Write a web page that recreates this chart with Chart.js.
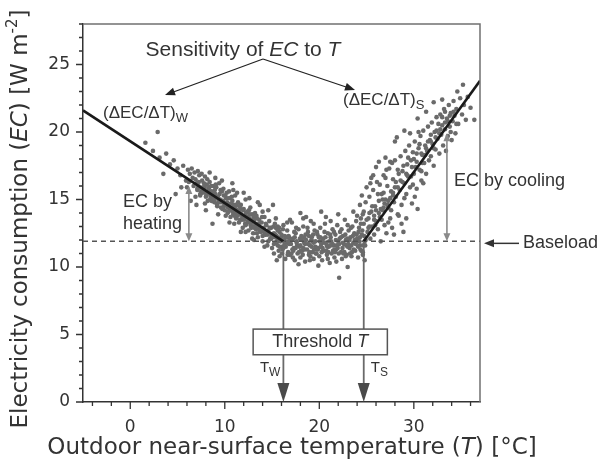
<!DOCTYPE html>
<html>
<head>
<meta charset="utf-8">
<script src="https://cdn.jsdelivr.net/npm/chart.js@4.4.1/dist/chart.umd.min.js"></script>
<style>
  body { margin: 0; background: #fff; }
</style>
</head>
<body>
<canvas id="ecChart" width="603" height="464"></canvas>
<script>
const winterObs = [
  [1.6,19.2],[2.9,20.0],[3.5,16.9],[2.4,18.6],[3.1,18.1],[3.8,18.4],[4.2,17.6],[4.6,17.9],[5.0,17.3],[5.3,16.8],
  [5.6,17.5],[5.9,16.4],[6.1,17.2],[6.3,16.9],[6.0,15.9],[4.8,15.4],[6.6,16.6],[6.8,17.0],[7.0,16.2],[7.1,15.7],
  [7.3,16.8],[7.4,15.3],[7.6,16.4],[7.7,15.9],[7.9,16.7],[8.0,15.5],[8.1,16.1],[8.2,14.9],[8.3,15.8],[8.4,16.3],
  [8.5,15.2],[8.6,15.6],[8.7,13.2],[8.8,16.0],[8.9,14.8],[9.0,15.4],[9.1,15.9],[9.2,14.6],[9.3,15.1],[9.4,16.2],
  [9.5,15.0],[9.6,14.4],[9.7,15.6],[9.8,14.9],[9.9,15.3],[10.0,14.2],[10.1,14.7],[10.2,15.5],[10.3,14.0],[10.4,14.6],
  [10.5,15.1],[10.6,13.7],[10.7,14.4],[10.8,14.9],[10.9,13.9],[11.0,14.5],[11.1,15.3],[11.2,13.6],[11.3,14.2],[11.4,14.8],
  [11.5,13.3],[11.6,14.0],[11.7,14.6],[11.8,13.5],[11.9,12.9],[12.0,14.3],[12.1,13.8],[12.2,15.0],[12.3,13.2],[12.4,14.1],
  [12.5,12.7],[12.6,13.6],[12.7,14.4],[12.8,13.0],[12.9,13.9],[13.0,12.5],[13.1,13.4],[13.2,14.0],[13.3,12.8],[13.4,13.6],
  [13.5,12.2],[13.6,13.1],[13.7,14.6],[13.8,12.6],[13.9,13.3],[14.0,11.9],[14.1,12.9],[14.2,13.7],[14.3,12.4],[14.4,13.1],
  [14.5,11.6],[14.6,12.7],[14.7,13.4],[14.8,12.1],[14.9,12.9],[15.0,11.4],[15.1,14.6],[15.2,12.5],[15.3,13.2],[15.4,11.8],
  [15.5,12.3],[15.6,13.0],[15.7,11.2],[15.8,12.6],[7.2,16.0],[7.5,15.6],[7.8,16.2],[8.05,15.3],[8.35,15.9],[8.65,14.9],
  [8.95,15.7],[9.15,14.7],[9.45,15.4],[9.75,14.3],[9.85,15.8],[10.15,15.1],[10.35,14.4],[10.65,14.7],[10.85,14.1],[11.05,14.0],
  [11.25,14.6],[11.45,13.9],[11.65,14.3],[11.85,13.7],[12.05,13.5],[12.25,14.0],[12.45,13.4],[12.65,13.9],[12.85,13.3],[13.05,13.7],
  [13.25,13.1],[13.45,12.9],[13.65,13.5],[13.85,12.9],[9.3,13.9],[10.5,13.3],[11.7,12.6],[12.9,12.1],[6.4,14.9],[10.8,16.2],
  [12.0,15.5],[13.5,14.8],[14.6,14.2],[5.4,15.9],[7.0,14.6],[8.0,14.2],
  [6.2,16.3],[6.5,17.3],[6.7,16.0],[6.9,16.5],[7.15,17.1],[7.35,15.9],[7.55,16.9],[7.65,15.5],[7.85,15.8],[8.15,16.5],
  [8.25,15.6],[8.45,15.0],[8.55,16.0],[8.75,15.4],[8.85,15.1],[9.05,16.1],[9.25,15.2],[9.35,14.9],[9.55,15.7],[9.65,14.8],
  [9.95,14.6],[10.05,15.3],[10.25,14.8],[10.45,15.6],[10.55,14.3],[10.75,15.2],[10.95,14.6],[11.15,14.3],[11.35,13.8],[11.55,14.5],
  [11.75,13.9],[11.95,14.2],[12.15,13.2],[12.35,13.7],[12.55,14.2],[12.75,13.1],[12.95,13.5],[13.15,12.9],[13.35,13.8],[13.55,13.2],
  [13.75,12.7],[13.95,13.7],[14.15,12.6],[14.35,13.2],[14.55,12.4],[14.75,12.9],[14.95,12.3],[15.15,13.0],[15.35,12.4],[15.55,11.9],
  [15.75,12.9],[15.95,12.2],[9.0,16.6],[11.0,13.2],[12.2,12.6],[13.1,12.0],[14.2,11.5],[7.9,14.7],[10.1,13.8],[10.9,15.7],
  [12.6,15.1],[14.0,14.1],[15.4,13.6],[6.9,15.2],[8.4,17.0],[9.7,16.4],[11.3,15.5],
  [7.1,15.8],[7.4,15.4],[7.7,15.6],[8.0,15.2],[8.3,15.5],[8.6,14.9],[8.9,15.0],[9.2,14.5],[9.5,14.8],[9.8,14.4],
  [10.1,14.6],[10.4,14.1],[10.7,14.2],[11.0,13.8],[11.3,14.0],[11.6,13.5],[11.9,13.6],[12.2,13.1],[12.5,13.4],[12.8,12.9],
  [13.1,13.0],[13.4,12.5],[13.7,12.7],[14.0,12.3],[14.3,12.4],[14.6,11.9],[14.9,12.1],[15.2,11.7],[15.5,11.9],[15.8,11.5],
  [7.25,16.3],[7.85,15.9],[8.45,15.4],[9.05,15.2],[9.65,14.9],[10.25,14.5],[10.85,14.3],[11.45,13.9],[12.05,13.8],[12.65,13.3],
  [13.25,13.2],[13.85,12.8],[14.45,12.6],[15.05,12.2],[15.65,12.1]
];
const baseObs = [
  [15.2,11.0],[15.4,12.9],[15.6,11.6],[15.8,10.8],[16.0,12.4],[16.1,11.3],[16.2,13.1],[16.3,12.0],[16.4,10.6],[16.5,11.8],
  [16.6,12.7],[16.7,11.1],[16.8,12.2],[16.9,10.9],[17.0,11.7],[17.1,13.3],[17.2,12.1],[17.3,11.4],[17.4,10.5],[17.5,12.5],
  [17.6,11.9],[17.7,11.0],[17.8,12.8],[17.9,11.5],[18.0,10.7],[18.1,12.3],[18.2,11.2],[18.3,13.0],[18.4,11.8],[18.5,10.4],
  [18.6,12.0],[18.7,11.3],[18.8,12.6],[18.9,10.9],[19.0,11.6],[19.1,13.4],[19.2,12.2],[19.3,11.1],[19.4,10.6],[19.5,12.7],
  [19.6,11.9],[19.7,11.0],[19.8,12.4],[19.9,11.4],[20.0,10.8],[20.1,12.9],[20.2,11.7],[20.3,10.5],[20.4,12.1],[20.5,11.2],
  [20.6,13.2],[20.7,11.8],[20.8,10.9],[20.9,12.5],[21.0,11.5],[21.1,10.3],[21.2,12.2],[21.3,11.0],[21.4,12.8],[21.5,11.6],
  [21.6,10.7],[21.7,12.4],[21.8,11.3],[21.9,13.1],[22.0,11.9],[22.1,9.2],[22.2,12.6],[22.3,11.1],[22.4,10.6],[22.5,12.3],
  [22.6,11.7],[22.7,13.5],[22.8,12.0],[22.9,10.9],[23.0,10.0],[23.1,12.7],[23.2,11.4],[23.3,12.2],[23.4,10.8],[23.5,13.0],
  [23.6,11.8],[23.7,12.5],[23.8,11.2],[23.9,13.4],[24.0,12.1],[24.1,10.7],[24.2,12.9],[24.3,11.6],[24.4,13.6],[24.5,12.4],
  [24.6,11.1],[24.7,13.2],[24.8,10.5],[24.9,12.0],[15.3,12.2],[15.9,11.9],[16.15,12.8],[16.45,11.5],[16.75,12.3],[17.05,11.0],
  [17.35,12.6],[17.65,11.6],[17.95,12.1],[18.25,10.9],[18.55,12.4],[18.85,11.7],[19.15,12.0],[19.45,11.3],[19.75,12.6],[20.05,11.9],
  [20.35,11.4],[20.65,12.2],[20.95,11.1],[21.25,11.9],[21.55,12.6],[21.85,11.6],[22.15,12.1],[22.45,11.4],[22.75,12.4],[23.05,11.7],
  [23.35,12.9],[23.65,11.3],[23.95,12.4],[24.25,11.9],[24.55,12.7],[24.85,11.6],[16.3,11.6],[17.1,12.0],[18.0,11.6],[18.9,12.3],
  [19.6,11.5],[20.5,11.8],[21.4,11.7],[22.3,12.2],[23.2,12.0],[24.1,11.5],[15.5,10.5],[17.8,10.2],[19.9,10.1],[21.8,10.4],
  [20.7,13.7],[18.3,13.6],[16.9,13.5],[22.0,13.9],[23.6,14.1],[18.0,14.0],[18.6,13.7],
  [15.6,12.7],[16.05,11.0],[16.35,12.3],[16.65,10.9],[16.95,12.0],[17.25,11.2],[17.55,12.9],[17.85,11.1],[18.15,12.0],[18.45,11.3],
  [18.75,12.9],[19.05,10.8],[19.35,12.4],[19.65,11.0],[19.95,12.2],[20.25,11.1],[20.55,12.6],[20.85,11.5],[21.15,12.4],[21.45,11.2],
  [21.75,12.0],[22.05,11.0],[22.35,12.8],[22.65,11.1],[22.95,12.1],[23.25,11.0],[23.55,12.3],[23.85,11.7],[24.15,12.6],[24.45,11.2],
  [24.75,12.3],[16.0,11.5],[16.8,11.7],[17.5,11.4],[18.4,12.2],[19.2,11.5],[20.1,12.2],[20.8,11.6],[21.6,11.3],[22.5,11.8],
  [23.4,11.6],[24.3,12.2],[17.2,10.7],[19.0,10.5],[20.9,10.6],[22.8,10.8],[24.6,10.9],[16.6,13.3],[19.4,13.2],[21.2,13.4],
  [23.0,13.1],[24.0,13.8],[20.2,14.1],
  [16.2,11.4],[16.7,11.9],[17.15,11.3],[17.6,11.8],[18.05,11.2],[18.5,11.7],[18.95,11.1],[19.4,11.8],[19.85,11.3],[20.3,11.9],
  [20.75,11.2],[21.2,11.6],[21.65,11.1],[22.1,11.7],[22.55,11.0],[23.0,11.5],[23.45,11.1],[23.9,11.8],[24.35,11.3],[24.8,11.9],
  [16.5,12.2],[17.4,12.2],[18.3,11.4],[19.25,11.9],[20.15,11.5],[21.05,11.9],[21.95,11.4],[22.85,11.6],[23.75,12.0],[24.65,11.6]
];
const summerObs = [
  [24.3,14.6],[24.6,13.9],[24.9,14.8],[25.1,12.6],[25.2,13.6],[25.3,15.2],[25.4,12.1],[25.5,14.1],[25.6,13.0],[25.7,15.7],
  [25.8,12.4],[25.9,14.5],[26.0,13.4],[26.1,16.3],[26.2,12.8],[26.3,14.9],[26.4,13.7],[26.5,11.9],[26.6,15.4],[26.7,14.2],
  [26.8,16.8],[26.9,13.1],[27.0,15.0],[27.1,12.5],[27.2,16.0],[27.3,14.4],[27.4,17.3],[27.5,13.6],[27.6,15.6],[27.7,12.9],
  [27.8,16.5],[27.9,14.8],[28.0,17.9],[28.1,15.2],[28.2,19.6],[28.3,13.9],[28.4,16.9],[28.5,15.7],[28.6,18.2],[28.7,14.6],
  [28.8,17.1],[28.9,12.6],[29.0,16.2],[29.1,18.6],[29.2,15.4],[29.3,17.6],[29.4,16.7],[29.5,19.0],[29.6,15.9],[29.7,17.9],
  [29.8,14.7],[29.9,18.5],[30.0,16.9],[30.1,19.3],[30.2,17.4],[30.3,15.8],[30.4,14.3],[30.5,18.8],[30.6,17.2],[30.7,19.7],
  [30.8,16.4],[30.9,18.3],[31.0,20.1],[31.1,17.7],[31.2,19.0],[31.3,16.9],[31.4,18.6],[31.5,20.4],[31.6,17.9],[31.7,19.4],
  [31.8,18.2],[31.9,20.7],[32.0,19.1],[32.1,17.5],[32.2,20.0],[32.3,18.7],[32.4,21.1],[32.5,19.5],[32.6,20.6],[32.7,18.4],
  [32.8,21.3],[32.9,19.8],[33.0,20.5],[33.1,19.0],[33.2,21.7],[33.3,20.2],[33.4,18.6],[33.5,21.0],[33.6,19.7],[33.7,22.0],
  [33.8,20.4],[33.9,21.4],[34.0,19.4],[34.1,20.8],[34.2,22.3],[34.3,21.2],[34.4,19.9],[34.5,21.7],[34.7,20.6],[34.9,22.5],
  [35.1,21.3],[35.3,22.0],[35.5,20.9],[35.7,22.6],[36.0,21.8],[36.4,20.9],[24.5,15.3],[25.0,15.9],[25.5,16.6],[26.0,17.4],
  [26.4,16.1],[27.0,18.1],[27.5,17.8],[28.0,19.3],[26.8,15.5],[27.6,14.2],[28.4,13.8],[29.2,13.6],[29.6,19.9],[30.4,21.0],
  [31.3,21.5],[32.1,22.2],[33.0,22.4],[34.6,23.0],[35.2,23.5],[25.7,16.8],[27.7,17.7],[30.5,20.0],
  [24.4,13.2],[24.7,14.1],[25.0,13.5],[25.3,14.0],[25.6,14.5],[25.9,13.1],[26.2,15.4],[26.5,14.3],[26.7,15.0],[27.0,16.6],
  [27.2,14.6],[27.5,15.1],[27.8,15.5],[28.1,16.3],[28.3,17.2],[28.6,16.4],[28.9,17.5],[29.2,16.9],[29.4,18.1],[29.7,16.7],
  [30.0,18.0],[30.3,18.4],[30.6,19.1],[30.9,17.7],[31.2,18.3],[31.5,19.3],[31.8,19.8],[32.1,18.8],[32.4,20.1],[32.7,19.9],
  [33.0,21.1],[33.3,21.5],[33.6,20.8],[33.9,20.0],[34.2,21.5],[34.5,20.6],[26.0,14.2],[26.9,14.7],[28.0,15.9],[29.0,15.1],
  [29.9,16.1],[30.8,17.1],[25.2,12.9],[25.8,13.8],[26.6,13.5],[27.3,13.3],[28.7,13.2],[27.9,12.4],[30.1,15.2],[31.0,16.2],
  [25.4,16.2],[26.3,17.8],[27.1,17.2],[29.0,20.1],
  [25.3,13.0],[25.8,13.5],[26.3,14.0],[26.8,14.4],[27.3,14.9],[27.8,15.3],[28.3,15.9],[28.8,16.3],[29.3,16.8],[29.8,17.4],
  [30.3,17.8],[30.8,18.4],[31.3,18.8],[31.8,19.3],[32.3,19.6],[32.8,20.2],[33.3,20.7],[33.8,21.2]
];

// piecewise fit
const heatingFitT = [-5, 16.2];
const heatingFitEC = [21.6, 11.9];
const coolingFitT = [24.7, 37];
const coolingFitEC = [11.9, 23.8];
const baseloadEC = 11.9;
const thresholdT = [16.2, 24.7];

const xTicks = [0, 10, 20, 30];
const yTicks = [0, 5, 10, 15, 20, 25];

const toPts = (xs, ys) => xs.map((x, i) => ({ x: x, y: ys[i] }));
const obsPts = winterObs.concat(baseObs, summerObs).map(p => ({ x: p[0], y: p[1] }));

const TXT = "#333";
const SANS = "'Liberation Sans', Arial, sans-serif";
const AXF = "'DejaVu Sans', sans-serif";

function rich(ctx, parts, x, y, align) {
  let w = 0;
  parts.forEach(p => {
    ctx.font = (p.it ? "italic " : "") + p.size + "px " + (p.fam || SANS);
    p.w = ctx.measureText(p.t).width;
    w += p.w;
  });
  let cx = align === "center" ? x - w / 2 : align === "right" ? x - w : x;
  ctx.textBaseline = "middle";
  ctx.textAlign = "left";
  parts.forEach(p => {
    ctx.font = (p.it ? "italic " : "") + p.size + "px " + (p.fam || SANS);
    ctx.fillText(p.t, cx, y + (p.dy || 0));
    cx += p.w;
  });
}

function head(ctx, x1, y1, x2, y2, len, half, color) {
  const a = Math.atan2(y2 - y1, x2 - x1);
  ctx.fillStyle = color;
  ctx.beginPath();
  ctx.moveTo(x2, y2);
  ctx.lineTo(x2 - len * Math.cos(a) + half * Math.sin(a), y2 - len * Math.sin(a) - half * Math.cos(a));
  ctx.lineTo(x2 - len * Math.cos(a) - half * Math.sin(a), y2 - len * Math.sin(a) + half * Math.cos(a));
  ctx.closePath();
  ctx.fill();
}

function seg(ctx, x1, y1, x2, y2, color, w) {
  ctx.strokeStyle = color;
  ctx.lineWidth = w;
  ctx.beginPath();
  ctx.moveTo(x1, y1);
  ctx.lineTo(x2, y2);
  ctx.stroke();
}

const overlay = {
  id: "overlay",
  afterDatasetsDraw(chart) {
    const c = chart.ctx;
    const X = v => chart.scales.x.getPixelForValue(v);
    const Y = v => chart.scales.y.getPixelForValue(v);
    c.save();

    // threshold verticals and box
    const boxTop = Y(5.4), boxBot = Y(3.5);
    thresholdT.forEach(t => {
      const px = X(t);
      seg(c, px, Y(baseloadEC), px, boxTop, "#6a6a6a", 1.8);
      seg(c, px, boxBot, px, Y(0) - 15, "#6a6a6a", 1.8);
      head(c, px, boxBot, px, Y(0), 19, 6, "#4a4a4a");
    });
    const bx1 = X(13.0), bx2 = X(27.2);
    c.fillStyle = "#fff";
    c.fillRect(bx1, boxTop, bx2 - bx1, boxBot - boxTop);
    c.strokeStyle = "#555";
    c.lineWidth = 1.5;
    c.strokeRect(bx1, boxTop, bx2 - bx1, boxBot - boxTop);
    c.fillStyle = TXT;
    rich(c, [{ t: "Threshold ", size: 18 }, { t: "T", size: 18, it: true }], (bx1 + bx2) / 2, (boxTop + boxBot) / 2, "center");
    rich(c, [{ t: "T", size: 15 }, { t: "W", size: 12, dy: 5 }], X(thresholdT[0]) - 3, 368, "right");
    rich(c, [{ t: "T", size: 15 }, { t: "S", size: 12, dy: 5 }], X(thresholdT[1]) + 7, 368, "left");

    // EC by heating / cooling arrows
    const gArr = "#8a8a8a";
    [[6.2, 16.0], [33.5, 19.9]].forEach(p => {
      const px = X(p[0]), top = Y(p[1]), bot = Y(baseloadEC);
      seg(c, px, top + 5, px, bot - 5, gArr, 1.6);
      head(c, px, bot, px, top, 8, 3.5, gArr);
      head(c, px, top, px, bot, 8, 3.5, gArr);
    });
    c.fillStyle = TXT;
    rich(c, [{ t: "EC by", size: 18 }], 123, 202, "left");
    rich(c, [{ t: "heating", size: 18 }], 123, 224, "left");
    rich(c, [{ t: "EC by cooling", size: 18 }], 454, 181, "left");

    // sensitivity
    c.fillStyle = TXT;
    rich(c, [{ t: "Sensitivity of ", size: 21 }, { t: "EC", size: 21, it: true },
             { t: " to ", size: 21 }, { t: "T", size: 21, it: true }], 243, 50, "center");
    const ox = 263, oy = 59;
    seg(c, ox, oy, 168, 94, "#222", 1.3);
    head(c, ox, oy, 165, 95, 10, 4, "#222");
    seg(c, ox, oy, 352, 89, "#222", 1.3);
    head(c, ox, oy, 355, 90, 10, 4, "#222");
    c.fillStyle = TXT;
    rich(c, [{ t: "(\u0394EC/\u0394T)", size: 17 }, { t: "W", size: 13, dy: 5 }], 103, 113, "left");
    rich(c, [{ t: "(\u0394EC/\u0394T)", size: 17 }, { t: "S", size: 13, dy: 5 }], 343, 100, "left");

    // baseload pointer
    const by = Y(baseloadEC) + 2;
    seg(c, 519, by, 492, by, "#333", 1.5);
    head(c, 519, by, 484, by, 10, 4, "#333");
    c.fillStyle = TXT;
    rich(c, [{ t: "Baseload", size: 18 }], 523, by, "left");

    c.restore();
  },
  afterDraw(chart) {
    const c = chart.ctx, a = chart.chartArea;
    const X = v => chart.scales.x.getPixelForValue(v);
    const Y = v => chart.scales.y.getPixelForValue(v);
    c.save();
    // frame top / right
    c.strokeStyle = "#707070";
    c.lineWidth = 1.5;
    c.beginPath();
    c.moveTo(a.left, a.top);
    c.lineTo(a.right, a.top);
    c.lineTo(a.right, a.bottom);
    c.stroke();
    // tick marks
    c.strokeStyle = "#333";
    c.lineWidth = 1.3;
    c.beginPath();
    for (let t = -4; t <= 36; t += 2) {
      const len = xTicks.includes(t) ? 7 : 4;
      c.moveTo(X(t), a.bottom);
      c.lineTo(X(t), a.bottom + len);
    }
    for (let v = 0; v <= 28; v += 1) {
      const len = yTicks.includes(v) ? 7 : 4;
      c.moveTo(a.left, Y(v));
      c.lineTo(a.left - len, Y(v));
    }
    c.stroke();
    // axis titles
    c.fillStyle = TXT;
    rich(c, [{ t: "Outdoor near-surface temperature (", size: 23, fam: AXF },
             { t: "T", size: 23, it: true, fam: AXF },
             { t: ") [\u00B0C]", size: 23, fam: AXF }], 292, 448, "center");
    c.translate(21, 219);
    c.rotate(-Math.PI / 2);
    rich(c, [{ t: "Electricity consumption (", size: 23, fam: AXF },
             { t: "EC", size: 23, it: true, fam: AXF },
             { t: ") [W m", size: 23, fam: AXF },
             { t: "-2", size: 15, fam: AXF, dy: -8 },
             { t: "]", size: 23, fam: AXF }], 0, 0, "center");
    c.restore();
  }
};

new Chart(document.getElementById("ecChart"), {
  type: "scatter",
  data: {
    datasets: [
      { data: toPts(heatingFitT, heatingFitEC), showLine: true, borderColor: "#1a1a1a", borderWidth: 2.6, pointRadius: 0, order: 1 },
      { data: toPts(coolingFitT, coolingFitEC), showLine: true, borderColor: "#1a1a1a", borderWidth: 2.6, pointRadius: 0, order: 1 },
      { data: toPts([-5, 37], [baseloadEC, baseloadEC]), showLine: true, borderColor: "#555", borderWidth: 1.5,
        borderDash: [5, 4], pointRadius: 0, order: 2 },
      { data: obsPts, pointRadius: 2.3, pointBackgroundColor: "#6a6a6a", pointBorderWidth: 0, order: 3 }
    ]
  },
  options: {
    responsive: false,
    animation: false,
    devicePixelRatio: 1,
    layout: { padding: { left: 0, right: 123, top: 24, bottom: 0 } },
    plugins: { legend: { display: false }, tooltip: { enabled: false } },
    scales: {
      x: {
        type: "linear", min: -5, max: 37,
        afterFit: s => { s.height = 62; },
        afterBuildTicks: s => { s.ticks = xTicks.map(v => ({ value: v })); },
        grid: { drawOnChartArea: false, drawTicks: true, tickLength: 7, color: "rgba(0,0,0,0)" },
        border: { display: true, color: "#333", width: 1.5 },
        ticks: {
          autoSkip: false, maxRotation: 0, padding: 8, color: TXT,
          font: { family: AXF, size: 17 },
          callback: v => String(v)
        }
      },
      y: {
        min: 0, max: 28,
        afterFit: s => { s.width = 83; },
        afterBuildTicks: s => { s.ticks = yTicks.map(v => ({ value: v })); },
        grid: { drawOnChartArea: false, drawTicks: true, tickLength: 7, color: "rgba(0,0,0,0)" },
        border: { display: true, color: "#333", width: 1.5 },
        ticks: {
          autoSkip: false, padding: 6, color: TXT,
          font: { family: AXF, size: 17 },
          callback: v => String(v)
        }
      }
    }
  },
  plugins: [overlay]
});
</script>
</body>
</html>
